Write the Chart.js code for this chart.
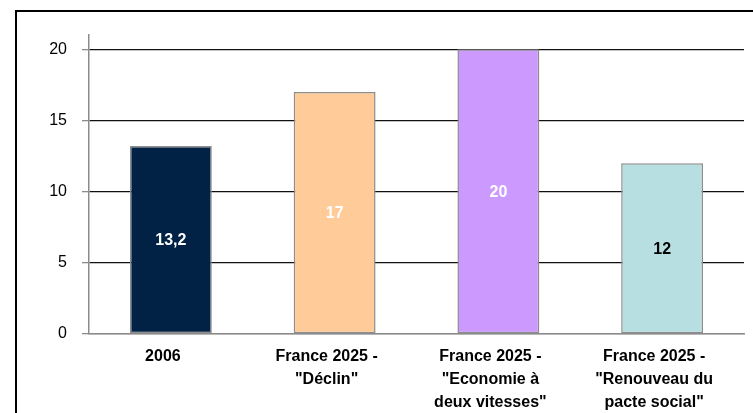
<!DOCTYPE html>
<html>
<head>
<meta charset="utf-8">
<script src="https://cdn.jsdelivr.net/npm/chart.js@4"></script>
<style>
    html, body { margin: 0; padding: 0; background: #fff; overflow: hidden; }
    #wrap { position: relative; width: 753px; height: 413px; }
    #frame { position: absolute; left: 15px; top: 10px; width: 780px; height: 440px; border: 2px solid #000; box-sizing: border-box; }
    #chart { position: absolute; left: 0; top: 0; }
</style>
</head>
<body>
<div id="wrap">
    <div id="frame"></div>
    <canvas id="chart" width="753" height="413"></canvas>
</div>
<script>
// Data
const categories = [
    ['2006'],
    ['France 2025 -', '"Déclin"'],
    ['France 2025 -', '"Economie à', 'deux vitesses"'],
    ['France 2025 -', '"Renouveau du', 'pacte social"']
];
const values = [13.2, 17, 20, 12];
const yTicks = [0, 5, 10, 15, 20];

const barColors = ['#012244', '#FFCC99', '#CC99FF', '#B7DEE1'];
const valueColors = ['#fff', '#fff', '#fff', '#000'];
const FONT = '"Liberation Sans", Arial, sans-serif';

// labels drawn in the middle of each bar
const barValues = {
    id: 'barValues',
    afterDatasetsDraw(chart) {
        const ctx = chart.ctx;
        const meta = chart.getDatasetMeta(0);
        ctx.save();
        ctx.font = 'bold 16px ' + FONT;
        ctx.textAlign = 'center';
        ctx.textBaseline = 'middle';
        meta.data.forEach((bar, i) => {
            const txt = String(values[i]).replace('.', ',');
            ctx.fillStyle = valueColors[i];
            ctx.fillText(txt, bar.x, (bar.y + bar.base) / 2 + 1);
        });
        ctx.restore();
    }
};

new Chart(document.getElementById('chart'), {
    type: 'bar',
    data: {
        labels: categories,
        datasets: [{
            data: values,
            backgroundColor: barColors,
            borderColor: '#8c8c8c',
            borderWidth: 1.5,
            borderSkipped: false,
            categoryPercentage: 1,
            barPercentage: 0.5
        }]
    },
    options: {
        responsive: false,
        animation: false,
        devicePixelRatio: 1,
        layout: { padding: { left: 0, right: 9, top: 35, bottom: 0 } },
        plugins: { legend: { display: false }, tooltip: { enabled: false } },
        scales: {
            x: {
                grid: { display: false, drawTicks: false },
                border: { display: true, color: '#8c8c8c', width: 1.5 },
                ticks: {
                    color: '#000',
                    font: { family: FONT, size: 16, weight: 'bold', lineHeight: '23px' },
                    padding: 11,
                    labelOffset: -8,
                    maxRotation: 0,
                    autoSkip: false
                },
                afterFit(s) { s.height = 79; }
            },
            y: {
                min: 0,
                max: 21,
                bounds: 'data',
                afterBuildTicks(s) { s.ticks = yTicks.map(v => ({ value: v })); },
                ticks: {
                    includeBounds: false,
                    color: '#000',
                    font: { family: FONT, size: 16 },
                    padding: 15
                },
                grid: {
                    color: c => (c.tick && c.tick.value === 0) ? '#8c8c8c' : '#111',
                    lineWidth: 1.3,
                    tickColor: '#8c8c8c',
                    tickLength: 7
                },
                border: { color: '#8c8c8c', width: 1.5 },
                afterFit(s) { s.width = 89; }
            }
        }
    },
    plugins: [barValues]
});
</script>
</body>
</html>
